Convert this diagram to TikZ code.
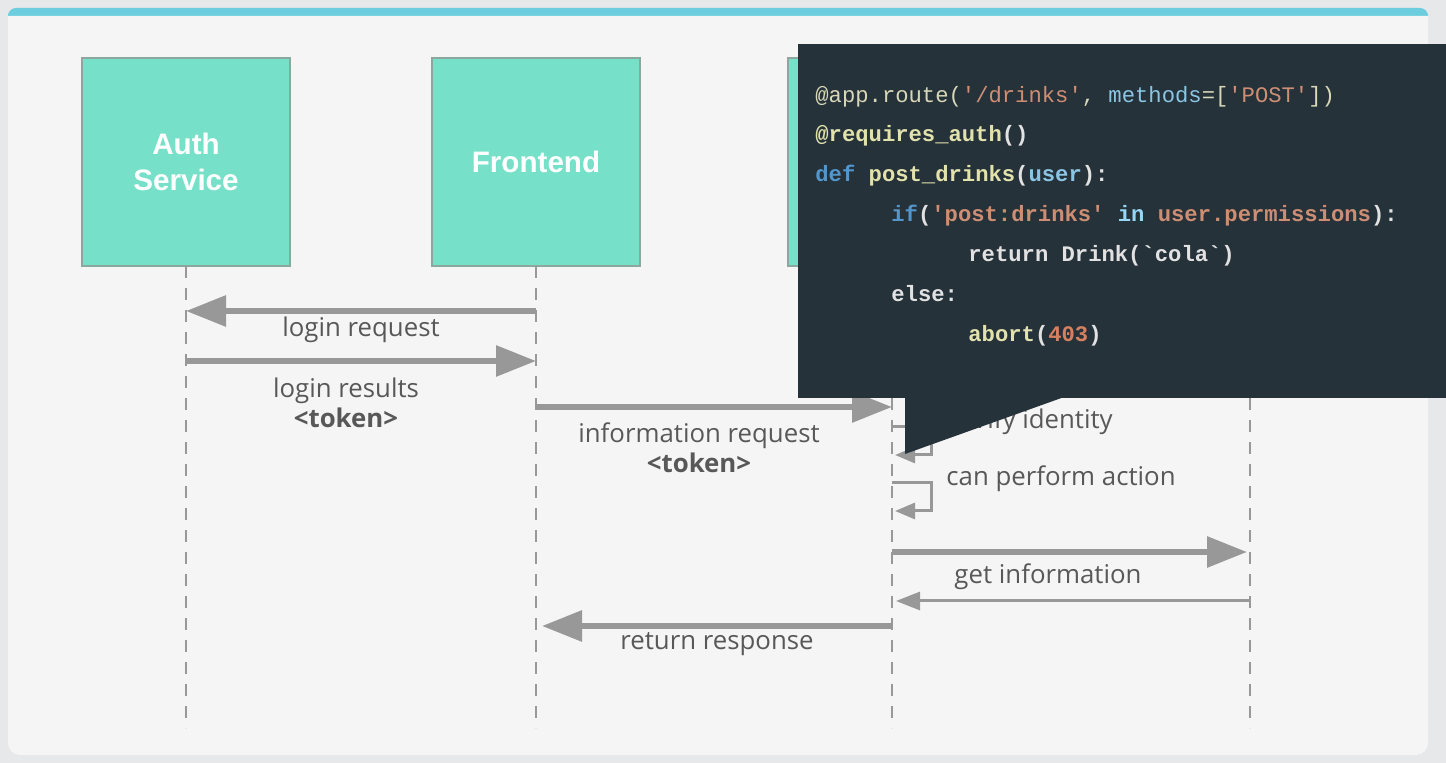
\documentclass[tikz,border=0pt]{standalone}
\usepackage{fontspec}
\setmainfont{Open Sans}
\newfontfamily\boxfont{Liberation Sans}
\newfontfamily\codefont{Liberation Mono}
\usetikzlibrary{arrows.meta,positioning}

\definecolor{pagebg}{RGB}{231,232,233}
\definecolor{panelbg}{RGB}{245,245,245}
\definecolor{stripe}{RGB}{108,205,222}
\definecolor{boxfill}{RGB}{118,224,200}
\definecolor{boxline}{RGB}{138,168,158}
\definecolor{msggray}{RGB}{152,152,152}
\definecolor{labelgray}{RGB}{88,88,88}
\definecolor{codebg}{RGB}{38,50,58}
\definecolor{cplain}{RGB}{216,216,184}
\definecolor{cstr}{RGB}{206,142,116}
\definecolor{cattr}{RGB}{138,198,228}
\definecolor{cfunc}{RGB}{226,226,172}
\definecolor{ckw}{RGB}{82,150,204}
\definecolor{cin}{RGB}{150,215,245}
\definecolor{cwhite}{RGB}{226,226,226}
\definecolor{cnum}{RGB}{214,128,96}

\newcommand{\sq}{\textquotesingle}
\newcommand{\bq}{\textasciigrave}

\begin{document}
\begin{tikzpicture}[x=0.5pt, y=-0.5pt,
    service/.style={draw=boxline, line width=0.6pt, fill=boxfill, minimum width=104pt, minimum height=104pt,
      inner sep=0pt, align=center, text=white, font=\boxfont\bfseries\fontsize{14.8}{18}\selectfont},
    lifeline/.style={msggray, line width=1pt, dash pattern=on 6pt off 5pt},
    msg/.style={msggray, line width=3pt, -{Triangle[length=20pt, width=15pt]}},
    reply/.style={msggray, line width=1.5pt, -{Triangle[length=12pt, width=9pt]}},
    selfmsg/.style={msggray, line width=1.5pt, -{Triangle[length=10pt, width=8pt]}},
    lbl/.style={text=labelgray, font=\fontsize{12.9}{15}\selectfont, inner sep=0pt, align=center},
    tok/.style={lbl, font=\bfseries\fontsize{12.9}{15}\selectfont},
    codeline/.style={anchor=base west, inner sep=0pt, font=\codefont\fontsize{11.1}{13}\selectfont},
    codebold/.style={codeline, font=\codefont\bfseries\fontsize{11.1}{13}\selectfont}
  ]
    \useasboundingbox (0,0) rectangle (1446,763);
    \fill[pagebg] (0,0) rectangle (1446,763);
    \fill[stripe, rounded corners=4pt] (8,8) rectangle (1428,22);
    \fill[panelbg] (8,16) -- (1428,16) [rounded corners=6pt] -- (1428,755) -- (8,755) [sharp corners] -- cycle;

    % services
    \node[service] (auth) at (186,162) {Auth\\Service};
    \node[service] (front) at (536,162) {Frontend};
    \node[service] (api) at (892,162) {};
    \coordinate (store) at (1250,162);

    \coordinate (top) at (0,266);
    \coordinate (bot) at (0,728);
    \foreach \n in {auth,front,api,store} {
      \draw[lifeline] (\n |- top) -- (\n |- bot);
    }

    % message rows
    \coordinate (m1) at (0,311);
    \coordinate (m2) at (0,361);
    \coordinate (m3) at (0,407);
    \coordinate (s1) at (0,427);
    \coordinate (s2) at (0,483);
    \coordinate (m4) at (0,552);
    \coordinate (m5) at (0,601);
    \coordinate (m6) at (0,626);

    \draw[msg] (front |- m1) -- (auth |- m1);
    \node[lbl] (lreq) at (361,330) {login request};

    \draw[msg] (auth |- m2) -- (front |- m2);
    \node[lbl] (lres) at (346,391) {login results};
    \node[tok, below=1.5pt of lres] (ltok) {<token>};

    \draw[msg] (front |- m3) -- (api |- m3);
    \node[lbl] (ireq) at (699,436) {information request};
    \node[tok, below=1.5pt of ireq] (itok) {<token>};

    \draw[selfmsg] (api |- s1) -- ++(39,0) -- ++(0,28) -- ++(-36,0);
    \node[lbl, anchor=west] (verify) at (949,422) {verify identity};

    \draw[selfmsg] (api |- s2) -- ++(39,0) -- ++(0,28) -- ++(-36,0);
    \node[lbl, anchor=west] (perform) at (946,479) {can perform action};

    \draw[msg, shorten >=1.5pt] (api |- m4) -- (store |- m4);
    \node[lbl] (getinfo) at (1048,577) {get information};

    \draw[reply, shorten >=2pt] (store |- m5) -- (api |- m5);

    \draw[msg, shorten >=3pt] (api |- m6) -- (front |- m6);
    \node[lbl] (resp) at (717,644) {return response};

    % code popup
    \node[fill=codebg, anchor=north west, minimum width=324pt, minimum height=177pt, inner sep=0pt] (codebox) at (798,44) {};
    \fill[codebg] (905,396) -- (905,454) -- (1067,396) -- cycle;

    \node[codeline] (c1) at (815,103) {\textcolor{cplain}{@app.route(}\textcolor{cstr}{\sq/drinks\sq}\textcolor{cplain}{, }\textcolor{cattr}{methods}\textcolor{cplain}{=[}\textcolor{cstr}{\sq POST\sq}\textcolor{cplain}{])}};
    \node[codebold] (c2) at (815,142) {\textcolor{cfunc}{@requires\_auth}\textcolor{cwhite}{()}};
    \node[codebold] (c3) at (815,182) {\textcolor{ckw}{def} \textcolor{cfunc}{post\_drinks}\textcolor{cwhite}{(}\textcolor{cattr}{user}\textcolor{cwhite}{):}};
    \node[codebold] (c4) at (891,222) {\textcolor{ckw}{if}\textcolor{cwhite}{(}\textcolor{cstr}{\sq post:drinks\sq} \textcolor{cin}{in} \textcolor{cstr}{user.permissions}\textcolor{cwhite}{):}};
    \node[codebold] (c5) at (968,262) {\textcolor{cwhite}{return Drink(\bq cola\bq)}};
    \node[codebold] (c6) at (891,302) {\textcolor{cwhite}{else:}};
    \node[codebold] (c7) at (968,342) {\textcolor{cfunc}{abort}\textcolor{cwhite}{(}\textcolor{cnum}{403}\textcolor{cwhite}{)}};
\end{tikzpicture}
\end{document}
